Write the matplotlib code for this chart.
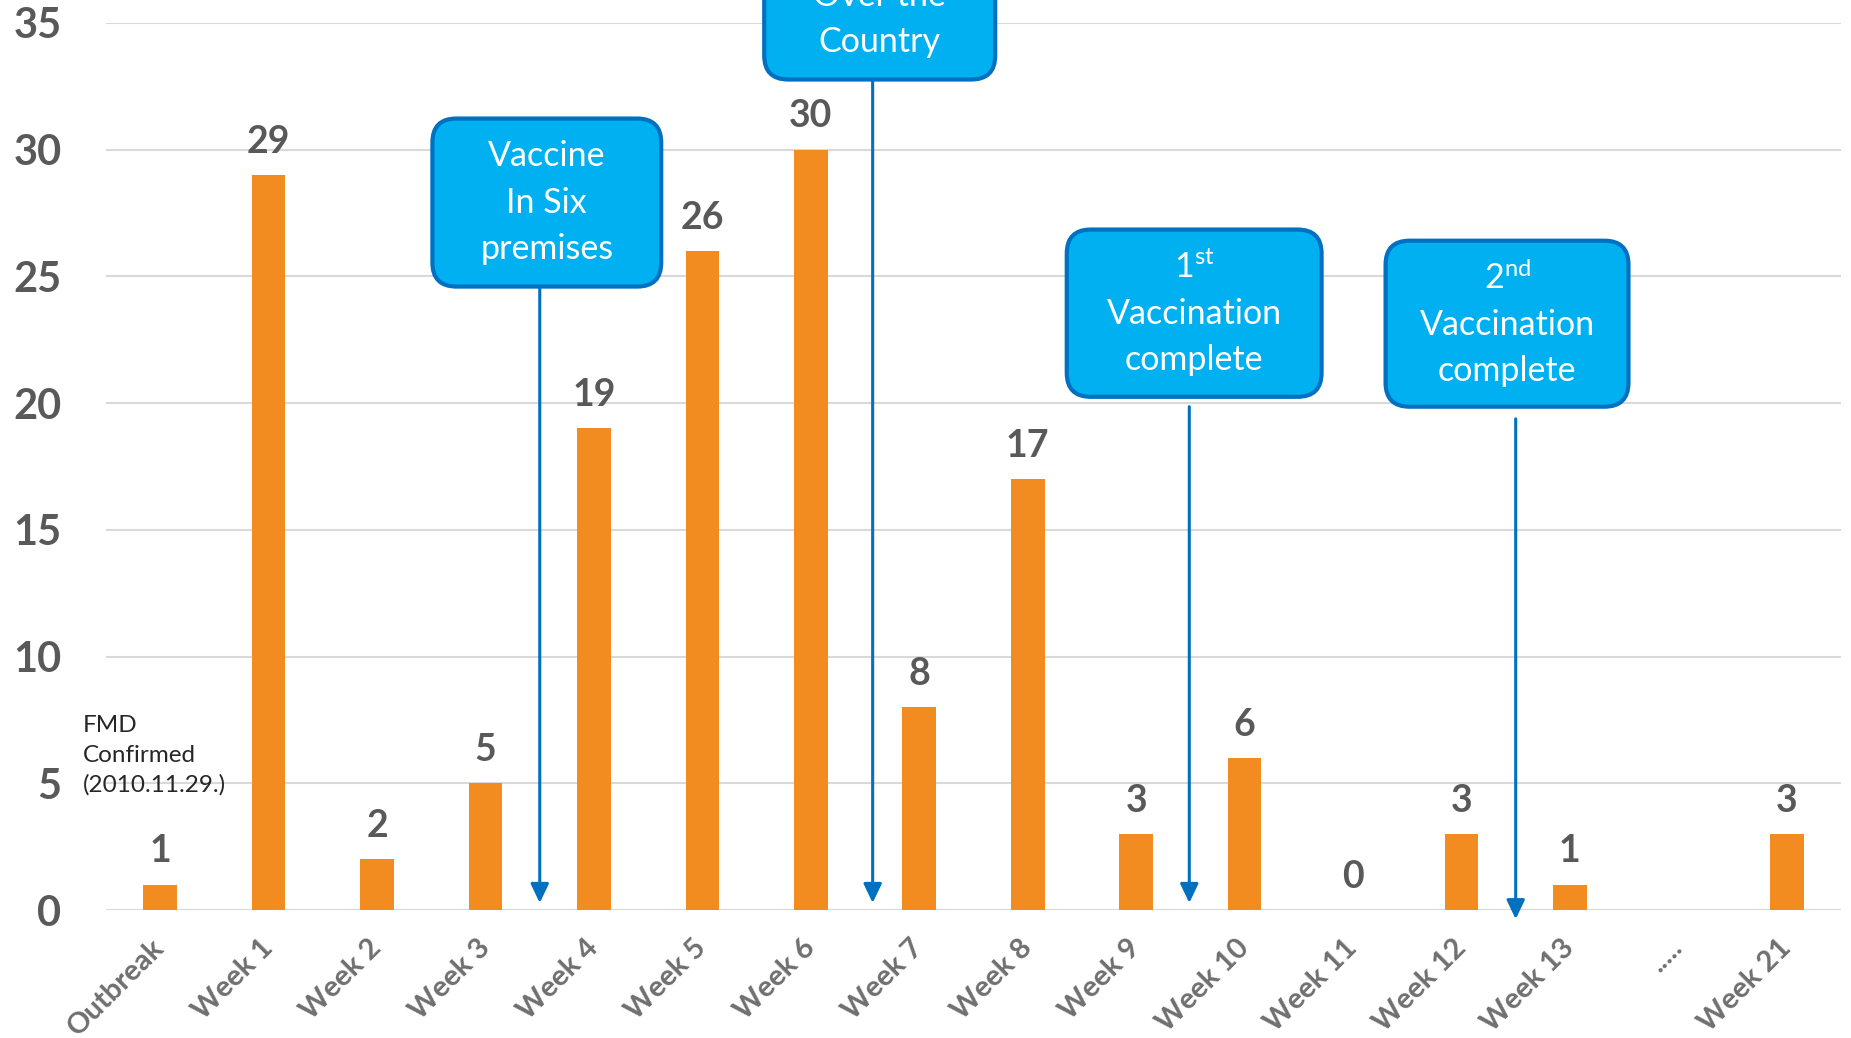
import matplotlib
matplotlib.use('Agg')
import matplotlib.pyplot as plt
import numpy as np
from matplotlib.patches import FancyBboxPatch

categories = ['Outbreak', 'Week 1', 'Week 2', 'Week 3', 'Week 4', 'Week 5', 'Week 6',
              'Week 7', 'Week 8', 'Week 9', 'Week 10', 'Week 11', 'Week 12', 'Week 13',
              '.....', 'Week 21']
cases = [1, 29, 2, 5, 19, 26, 30, 8, 17, 3, 6, 0, 3, 1, None, 3]
y_ticks = [0, 5, 10, 15, 20, 25, 30, 35]

# callout boxes: (text, x0, y_bottom, width, height) in data units
callouts = [
    ("Vaccine\nIn Six\npremises", 2.51, 24.6, 2.11, 6.63),
    ("Vaccination\nOver the\nCountry", 5.57, 32.77, 2.13, 6.63),
    ("1$^{\\mathrm{st}}$\nVaccination\ncomplete", 8.36, 20.25, 2.35, 6.6),
    ("2$^{\\mathrm{nd}}$\nVaccination\ncomplete", 11.30, 19.86, 2.24, 6.55),
]
# arrows: (x, y_start, y_end)
arrows = [
    (3.5, 24.6, 0.28),
    (6.57, 32.77, 0.28),
    (9.49, 19.86, 0.28),
    (12.5, 19.38, -0.36),
]

plt.rcParams['font.family'] = ['Lato', 'DejaVu Sans']
plt.rcParams['mathtext.fontset'] = 'custom'
plt.rcParams['mathtext.rm'] = 'Lato'
plt.rcParams['mathtext.it'] = 'Lato:italic'
plt.rcParams['mathtext.bf'] = 'Lato:bold'

W, H = 1851, 1038
fig = plt.figure(figsize=(W / 100, H / 100), dpi=100)
ax = fig.add_axes([106 / W, 128 / H, (1841 - 106) / W, (910 - 23) / H])

x = np.arange(len(categories))
vals = np.array([np.nan if v is None else v for v in cases], dtype=float)
ax.bar(x, vals, width=0.31, color='#F28C20', zorder=3)

for xi, v in zip(x, cases):
    if v is None:
        continue
    ax.annotate(str(v), (xi, v), xytext=(0, 16), textcoords='offset points',
                ha='center', va='baseline', fontsize=27, fontweight='bold',
                color='#595959')

ax.set_xlim(-0.5, len(categories) - 0.5)
ax.set_ylim(0, 35)
ax.set_yticks(y_ticks)
ax.set_yticklabels([str(t) for t in y_ticks], fontsize=30, fontweight='bold', color='#595959')
ax.set_xticks(x)
ax.set_xticklabels(categories, rotation=45, ha='right', va='center',
                   rotation_mode='anchor', fontsize=21, fontweight='bold', color='#6F6F6F')
ax.tick_params(axis='y', length=0, pad=32)
ax.tick_params(axis='x', length=0, pad=24)
ax.yaxis.grid(True, color='#D9D9D9', lw=1.5)
ax.set_axisbelow(True)
for s in ax.spines.values():
    s.set_visible(False)

# pixel aspect for rounded corners
p = ax.transData.transform([(0, 0), (1, 1)])
px_x = p[1, 0] - p[0, 0]
px_y = p[1, 1] - p[0, 1]
aspect = px_x / px_y

for txt, x0, y0, w, h in callouts:
    box = FancyBboxPatch((x0, y0), w, h,
                         boxstyle='round,pad=0,rounding_size=%f' % (24 / px_x),
                         mutation_aspect=aspect,
                         fc='#00B0F0', ec='#0070C0', lw=3, clip_on=False, zorder=5)
    ax.add_patch(box)
    ax.text(x0 + w / 2, y0 + h / 2, txt, ha='center', va='center', fontsize=24.5,
            color='white', linespacing=1.55, zorder=6, clip_on=False)

for xa, ys, ye in arrows:
    ax.annotate('', xy=(xa, ye), xytext=(xa, ys),
                arrowprops=dict(arrowstyle='-|>,head_length=1.15,head_width=0.55',
                                color='#0070C0', lw=2.2, shrinkA=0, shrinkB=0),
                annotation_clip=False, zorder=4)

ax.text(-0.71, 6.1, "FMD\nConfirmed\n(2010.11.29.)", ha='left', va='center',
        fontsize=17.5, color='#262626', linespacing=1.5)

fig.savefig('out.png', dpi=100)
